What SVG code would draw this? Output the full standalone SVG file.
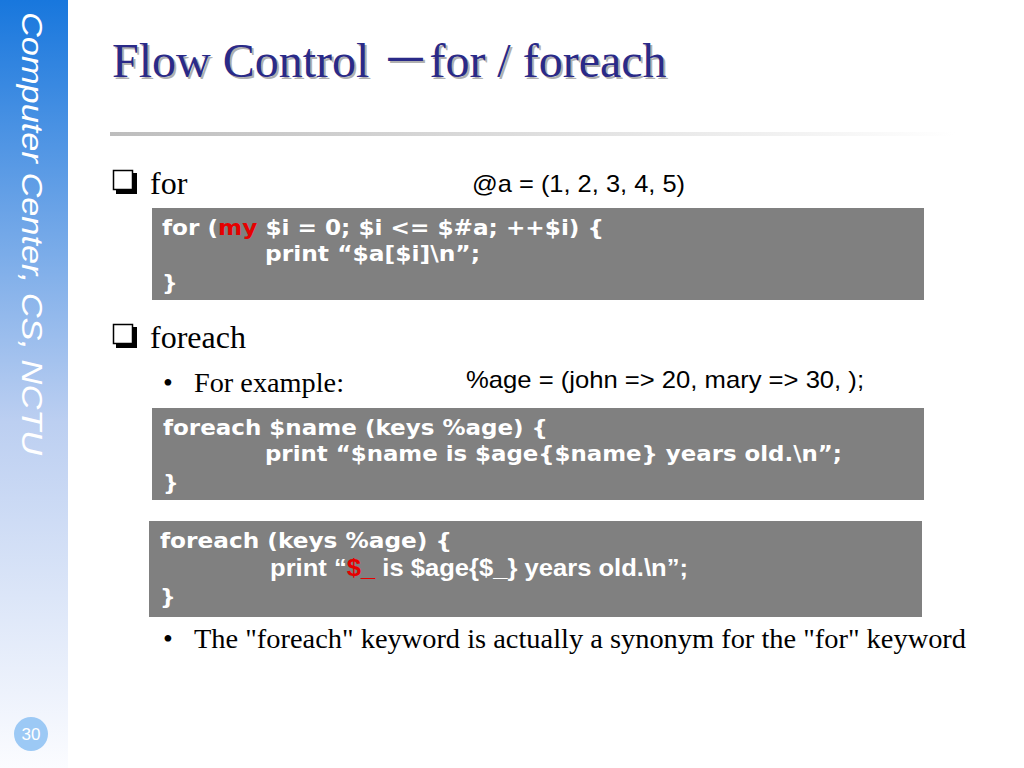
<svg xmlns="http://www.w3.org/2000/svg" width="1024" height="768" viewBox="0 0 1024 768">
<defs>
<linearGradient id="side" x1="0" y1="0" x2="0" y2="1">
<stop offset="0" stop-color="#1877dd"/>
<stop offset="0.55" stop-color="#bccff1"/>
<stop offset="1" stop-color="#fbfcff"/>
</linearGradient>
<linearGradient id="rule" x1="0" y1="0" x2="1" y2="0">
<stop offset="0" stop-color="#bdbdbd"/>
<stop offset="1" stop-color="#ffffff"/>
</linearGradient>
<style>
.title{font-family:"Liberation Serif","Times New Roman",serif;font-size:48px;}
.cjk{font-family:"Noto Sans CJK SC","Liberation Serif",serif;}
.h1{font-family:"Liberation Serif","Times New Roman",serif;font-size:32px;fill:#000;}
.h2{font-family:"Liberation Serif","Times New Roman",serif;font-size:28px;fill:#000;}
.ar{font-family:"Liberation Sans",Arial,sans-serif;font-size:24px;fill:#000;}
.box{fill:#808080;}
.code{font-family:"DejaVu Sans",Verdana,sans-serif;font-weight:bold;font-size:22px;fill:#fff;}
.codeA{font-family:"Liberation Sans",Arial,sans-serif;font-weight:bold;font-size:24px;fill:#fff;}
.red{fill:#e60000;}
</style>
</defs>
<rect x="0" y="0" width="1024" height="768" fill="#fff"/>
<g id="sidebar">
<rect x="0" y="0" width="68" height="768" fill="url(#side)"/>
<text transform="translate(22,12) rotate(90)" font-family="Liberation Sans, Arial, sans-serif" font-style="italic" font-size="30" fill="#fff" textLength="443" lengthAdjust="spacingAndGlyphs">Computer Center, CS, NCTU</text>
</g>
<g id="title">
<text class="title" x="114" y="79" fill="#b0b0b0">Flow Control <tspan class="cjk">－</tspan>for / foreach</text>
<text class="title" x="112" y="77" fill="#2a2a88">Flow Control <tspan class="cjk">－</tspan>for / foreach</text>
</g>
<rect id="rule-line" x="110" y="132" width="845" height="4" fill="url(#rule)"/>
<g id="bullet-for">
<rect x="116" y="173" width="21" height="21" fill="#000"/>
<rect x="113.5" y="170.5" width="19" height="19" fill="#fff" stroke="#000" stroke-width="1.5"/>
<text class="h1" x="150" y="194">for</text>
</g>
<text id="array-def" class="ar" x="472" y="192" textLength="213" lengthAdjust="spacingAndGlyphs">@a = (1, 2, 3, 4, 5)</text>
<g id="code-for">
<rect class="box" x="152" y="208" width="772" height="92"/>
<text class="code" x="162" y="235" textLength="442" lengthAdjust="spacingAndGlyphs">for (<tspan class="red">my</tspan> $i = 0; $i &lt;= $#a; ++$i) {</text>
<text class="code" x="265" y="261" textLength="215" lengthAdjust="spacingAndGlyphs">print “$a[$i]\n”;</text>
<text class="code" x="162" y="290">}</text>
</g>
<g id="bullet-foreach">
<rect x="116" y="327" width="21" height="21" fill="#000"/>
<rect x="113.5" y="324.5" width="19" height="19" fill="#fff" stroke="#000" stroke-width="1.5"/>
<text class="h1" x="150" y="348">foreach</text>
</g>
<g id="example">
<text class="h2" x="163" y="392">•</text>
<text class="h2" x="194" y="392" textLength="150" lengthAdjust="spacingAndGlyphs">For example:</text>
<text class="ar" x="466" y="388" textLength="398" lengthAdjust="spacingAndGlyphs">%age = (john =&gt; 20, mary =&gt; 30, );</text>
</g>
<g id="code-foreach-name">
<rect class="box" x="152" y="408" width="772" height="92"/>
<text class="code" x="163" y="435" textLength="385" lengthAdjust="spacingAndGlyphs">foreach $name (keys %age) {</text>
<text class="code" x="265" y="461" textLength="577" lengthAdjust="spacingAndGlyphs">print “$name is $age{$name} years old.\n”;</text>
<text class="code" x="163" y="490">}</text>
</g>
<g id="code-foreach-default">
<rect class="box" x="149" y="521" width="773" height="96"/>
<text class="code" x="160" y="548" textLength="292" lengthAdjust="spacingAndGlyphs">foreach (keys %age) {</text>
<text class="codeA" x="270" y="576" textLength="418" lengthAdjust="spacingAndGlyphs">print “<tspan class="red">$_</tspan> is $age{$_} years old.\n”;</text>
<text class="code" x="160" y="604">}</text>
</g>
<g id="note">
<text class="h2" x="163" y="648">•</text>
<text class="h2" x="194" y="648" textLength="772" lengthAdjust="spacingAndGlyphs">The "foreach" keyword is actually a synonym for the "for" keyword</text>
</g>
<g id="page-number">
<circle cx="31" cy="734" r="17" fill="#9cc9f5"/>
<text x="31" y="740" text-anchor="middle" font-family="Liberation Sans, Arial, sans-serif" font-size="17" fill="#fff">30</text>
</g>
</svg>
